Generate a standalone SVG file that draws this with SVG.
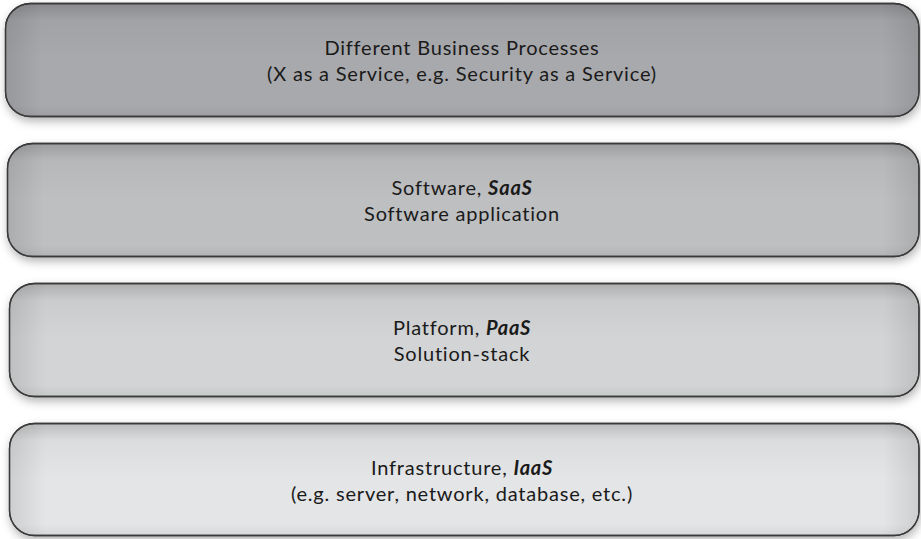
<svg xmlns="http://www.w3.org/2000/svg" width="921" height="539" viewBox="0 0 921 539">
<style>
.box{stroke:#3a3a3a;stroke-width:1.3}
.t{font-family:Lato,"Open Sans","DejaVu Sans",sans-serif;font-size:20px;letter-spacing:0.8px;fill:#1a1a1a;text-anchor:middle}
.b{font-weight:bold;font-style:italic}
</style>
<defs>
<filter id="sh" x="-5%" y="-20%" width="110%" height="150%">
<feDropShadow dx="1" dy="4" stdDeviation="5" flood-color="#000" flood-opacity="0.3"/>
</filter>
<linearGradient id="shade" x1="0" y1="0" x2="0" y2="1">
<stop offset="0" stop-color="#000" stop-opacity="0.18"/>
<stop offset="0.15" stop-color="#000" stop-opacity="0.04"/>
<stop offset="0.5" stop-color="#000" stop-opacity="0"/>
<stop offset="0.9" stop-color="#000" stop-opacity="0"/>
<stop offset="1" stop-color="#000" stop-opacity="0.06"/>
</linearGradient>
<linearGradient id="shadeH" x1="0" y1="0" x2="1" y2="0">
<stop offset="0" stop-color="#000" stop-opacity="0.1"/>
<stop offset="0.04" stop-color="#000" stop-opacity="0"/>
<stop offset="0.96" stop-color="#000" stop-opacity="0"/>
<stop offset="1" stop-color="#000" stop-opacity="0.1"/>
</linearGradient>
</defs>
<rect width="921" height="539" fill="#ffffff"/>
<g id="bpaas">
<rect class="box" x="5.5" y="3.5" width="913.5" height="113" rx="25" fill="#a8a9ac" filter="url(#sh)"/>
<rect x="5.5" y="3.5" width="913.5" height="113" rx="25" fill="url(#shade)"/>
<rect x="5.5" y="3.5" width="913.5" height="113" rx="25" fill="url(#shadeH)" stroke="#3a3a3a" stroke-width="1.3"/>
<text class="t" x="462" y="55">Different Business Processes</text>
<text class="t" x="462" y="81">(X as a Service, e.g. Security as a Service)</text>
</g>
<g id="saas">
<rect class="box" x="7.5" y="143.5" width="911.5" height="113" rx="25" fill="#bebfc1" filter="url(#sh)"/>
<rect x="7.5" y="143.5" width="911.5" height="113" rx="25" fill="url(#shade)"/>
<rect x="7.5" y="143.5" width="911.5" height="113" rx="25" fill="url(#shadeH)" stroke="#3a3a3a" stroke-width="1.3"/>
<text class="t" x="462" y="195">Software, <tspan class="b">SaaS</tspan></text>
<text class="t" x="462" y="221">Software application</text>
</g>
<g id="paas">
<rect class="box" x="9.5" y="283.5" width="909.5" height="113" rx="25" fill="#d3d4d5" filter="url(#sh)"/>
<rect x="9.5" y="283.5" width="909.5" height="113" rx="25" fill="url(#shade)"/>
<rect x="9.5" y="283.5" width="909.5" height="113" rx="25" fill="url(#shadeH)" stroke="#3a3a3a" stroke-width="1.3"/>
<text class="t" x="462" y="335">Platform, <tspan class="b">PaaS</tspan></text>
<text class="t" x="462" y="361">Solution-stack</text>
</g>
<g id="iaas">
<rect class="box" x="9.5" y="423.5" width="909.5" height="112" rx="25" fill="#e4e5e6" filter="url(#sh)"/>
<rect x="9.5" y="423.5" width="909.5" height="112" rx="25" fill="url(#shade)"/>
<rect x="9.5" y="423.5" width="909.5" height="112" rx="25" fill="url(#shadeH)" stroke="#3a3a3a" stroke-width="1.3"/>
<text class="t" x="462" y="475">Infrastructure, <tspan class="b">IaaS</tspan></text>
<text class="t" x="462" y="501">(e.g. server, network, database, etc.)</text>
</g>
<g id="connectors"/>
</svg>
